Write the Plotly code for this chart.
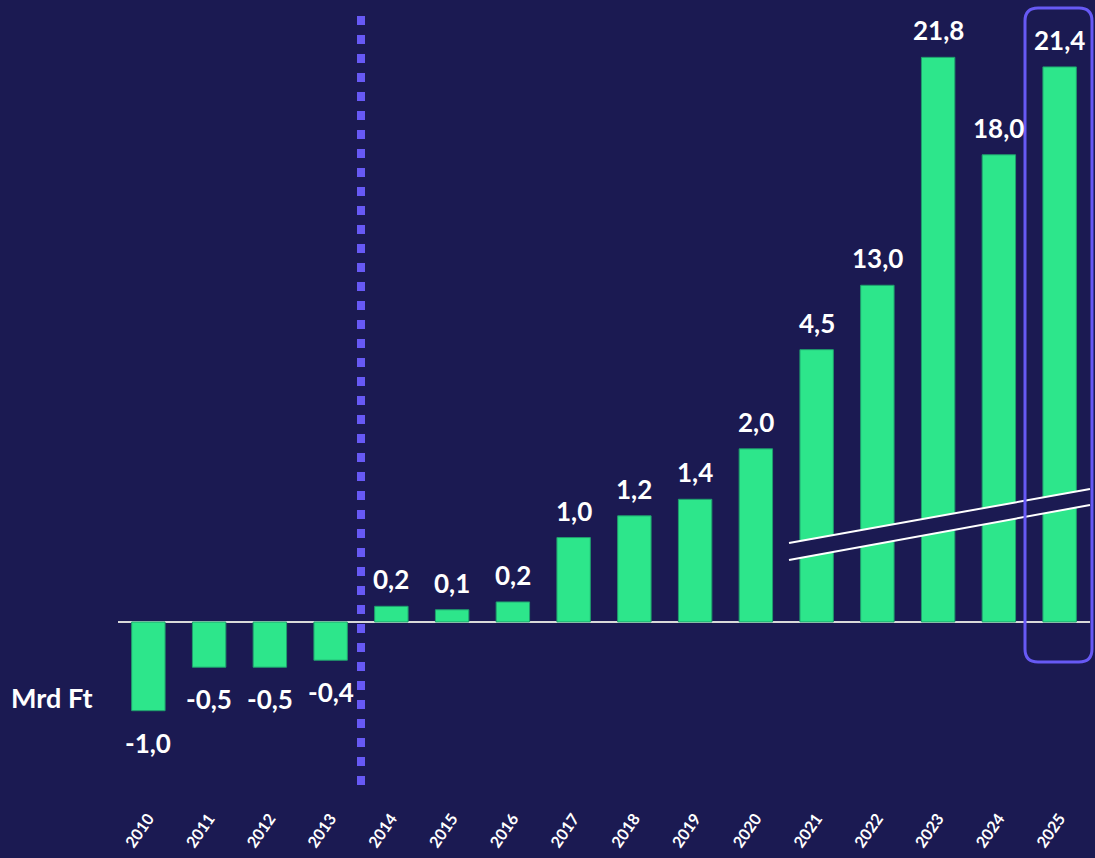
import plotly.graph_objects as go

# ---- data -------------------------------------------------------------
years = ["2010", "2011", "2012", "2013", "2014", "2015", "2016", "2017",
         "2018", "2019", "2020", "2021", "2022", "2023", "2024", "2025"]
values = [-1.0, -0.5, -0.5, -0.4, 0.2, 0.1, 0.2, 1.0,
          1.2, 1.4, 2.0, 4.5, 13.0, 21.8, 18.0, 21.4]
# heights as drawn in the picture (the axis is broken above ~2.5)
drawn_heights = [-1.02, -0.52, -0.52, -0.44, 0.18, 0.14, 0.23, 0.97,
                 1.22, 1.41, 1.99, 3.13, 3.87, 6.49, 5.37, 6.38]
labels = [f"{v:.1f}".replace(".", ",") for v in values]
unit_label = "Mrd Ft"

# ---- style ------------------------------------------------------------
BG = "#1b1a52"
BAR = "#2de68b"
ACCENT = "#6759f5"
FONT = "Lato"

W, H = 1095, 858
ML, MR, MT, MB = 118, 5, 0, 63
PW, PH = W - ML - MR, H - MT - MB
Y_TOP = 7.149
Y_BOT = -1.989


def px_x(px):
    return (px - ML) / PW


def px_y(py):
    return 1 - (py - MT) / PH


fig = go.Figure()
fig.add_trace(go.Bar(
    x=years, y=drawn_heights,
    marker=dict(color=BAR, line=dict(color="#1f9e6d", width=1)),
    width=0.55,
    hovertext=labels, hoverinfo="x+text",
))

annotations = []
for i, (h, lab) in enumerate(zip(drawn_heights, labels)):
    pos = h >= 0
    annotations.append(dict(
        x=i, y=h, xref="x", yref="y", text=f"<b>{lab}</b>",
        showarrow=False, xanchor="center",
        yanchor="bottom" if pos else "top",
        yshift=9 if pos else -14,
        font=dict(family=FONT, size=26, color="white")))

annotations.append(dict(text=f"<b>{unit_label}</b>", xref="paper", yref="paper",
                        x=px_x(9), y=px_y(697), xanchor="left", yanchor="middle",
                        showarrow=False,
                        font=dict(family=FONT, size=27, color="white")))

shapes = []
# break band crossing the tall bars
bx0, bx1 = 789, 1090
top0, top1 = 543, 489
bot0, bot1 = 560, 505
shapes.append(dict(
    type="path", xref="paper", yref="paper",
    path=(f"M {px_x(bx0)} {px_y(top0)} L {px_x(bx1)} {px_y(top1)} "
          f"L {px_x(bx1)} {px_y(bot1)} L {px_x(bx0)} {px_y(bot0)} Z"),
    fillcolor=BG, line=dict(width=0), layer="above"))
for (a, b) in [(top0, top1), (bot0, bot1)]:
    shapes.append(dict(type="line", xref="paper", yref="paper",
                       x0=px_x(bx0), y0=px_y(a), x1=px_x(bx1), y1=px_y(b),
                       line=dict(color="white", width=2), layer="above"))

# dotted separator between 2013 and 2014
shapes.append(dict(type="line", xref="x", yref="paper",
                   x0=3.5, x1=3.5, y0=px_y(785), y1=px_y(12),
                   line=dict(color=ACCENT, width=8, dash="9px,10px"),
                   layer="above"))

# rounded highlight box around 2025
rx0, rx1, ry0, ry1, r = 1025, 1092, 8, 662, 13
p = (f"M {px_x(rx0 + r)} {px_y(ry0)} L {px_x(rx1 - r)} {px_y(ry0)} "
     f"Q {px_x(rx1)} {px_y(ry0)} {px_x(rx1)} {px_y(ry0 + r)} "
     f"L {px_x(rx1)} {px_y(ry1 - r)} "
     f"Q {px_x(rx1)} {px_y(ry1)} {px_x(rx1 - r)} {px_y(ry1)} "
     f"L {px_x(rx0 + r)} {px_y(ry1)} "
     f"Q {px_x(rx0)} {px_y(ry1)} {px_x(rx0)} {px_y(ry1 - r)} "
     f"L {px_x(rx0)} {px_y(ry0 + r)} "
     f"Q {px_x(rx0)} {px_y(ry0)} {px_x(rx0 + r)} {px_y(ry0)} Z")
shapes.append(dict(type="path", xref="paper", yref="paper", path=p,
                   line=dict(color=ACCENT, width=3), layer="above"))

fig.update_layout(
    width=W, height=H,
    margin=dict(l=ML, r=MR, t=MT, b=MB),
    paper_bgcolor=BG, plot_bgcolor=BG,
    showlegend=False,
    shapes=shapes,
    annotations=annotations,
    xaxis=dict(type="category", range=[-0.5, 15.5], showgrid=False,
               showline=False, ticks="", tickangle=-55, ticklabelstandoff=10,
               tickfont=dict(family=FONT, size=16, color="white", weight="bold")),
    yaxis=dict(range=[Y_BOT, Y_TOP], showgrid=False, showticklabels=False,
               zeroline=True, zerolinecolor="#d9d9d9", zerolinewidth=2),
)

fig.write_html("out.html", config={"displayModeBar": False},
               post_script="document.body.style.margin='0';"
                           "document.body.style.background='" + BG + "';")
